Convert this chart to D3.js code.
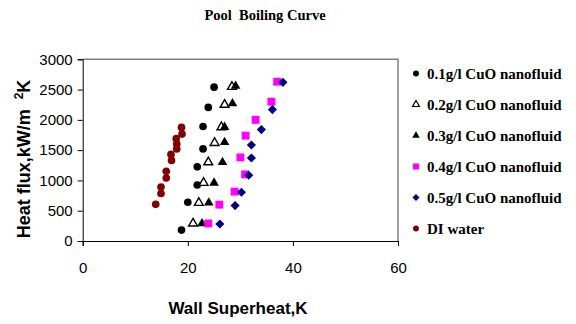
<!DOCTYPE html>
<html>
<head>
<meta charset="utf-8">
<script src="https://cdn.jsdelivr.net/npm/d3@7"></script>
<style>
  body { margin: 0; background: #fff; }
  svg { display: block; }
</style>
</head>
<body>
<svg id="chart" width="576" height="324"></svg>
<script>
// wall superheat (K) and heat flux (kW/m2K)
const cuo01X = [25.0, 23.9, 22.9, 22.9, 21.8, 21.8, 20.0, 18.8];
const cuo01Y = [2540, 2205, 1890, 1520, 1225, 925, 640, 180];

const cuo02X = [28.4, 27.0, 26.4, 25.1, 23.9, 23.0, 22.1, 21.0];
const cuo02Y = [2545, 2250, 1880, 1620, 1300, 960, 630, 290];

const cuo03X = [29.1, 28.5, 27.0, 27.0, 26.6, 25.0, 24.0, 22.7];
const cuo03Y = [2560, 2270, 1880, 1630, 1300, 960, 630, 290];

const cuo04X = [37.0, 35.9, 32.9, 31.0, 30.0, 30.9, 28.9, 26.0, 23.9];
const cuo04Y = [2630, 2300, 2000, 1740, 1380, 1100, 815, 600, 290];

const cuo05X = [38.1, 36.1, 34.0, 32.1, 32.1, 31.6, 30.2, 29.0, 26.1];
const cuo05Y = [2620, 2170, 1840, 1585, 1370, 1085, 805, 585, 280];

const waterX = [18.8, 18.9, 17.8, 17.9, 17.9, 16.8, 16.9, 15.9, 15.9, 14.9, 14.9, 13.9];
const waterY = [1875, 1765, 1690, 1600, 1520, 1430, 1330, 1150, 1040, 890, 785, 605];

const seriesNames = ["0.1g/l CuO nanofluid", "0.2g/l CuO nanofluid", "0.3g/l CuO nanofluid",
  "0.4g/l CuO nanofluid", "0.5g/l CuO nanofluid", "DI water"];

const xTicks = [0, 20, 40, 60];
const yTicks = [0, 500, 1000, 1500, 2000, 2500, 3000];

// diamond = square turned 45 degrees
const series = [
  {name: seriesNames[0], xs: cuo01X, ys: cuo01Y, shape: d3.symbolCircle, size: 46, rot: 0, fill: "#000", stroke: "none"},
  {name: seriesNames[1], xs: cuo02X, ys: cuo02Y, shape: d3.symbolTriangle, size: 34, rot: 0, fill: "#fff", stroke: "#000"},
  {name: seriesNames[2], xs: cuo03X, ys: cuo03Y, shape: d3.symbolTriangle, size: 40, rot: 0, fill: "#000", stroke: "none"},
  {name: seriesNames[3], xs: cuo04X, ys: cuo04Y, shape: d3.symbolSquare, size: 62, rot: 0, fill: "#ff00ff", stroke: "none"},
  {name: seriesNames[4], xs: cuo05X, ys: cuo05Y, shape: d3.symbolSquare, size: 42, rot: 45, fill: "#000080", stroke: "none"},
  {name: seriesNames[5], xs: waterX, ys: waterY, shape: d3.symbolCircle, size: 46, rot: 0, fill: "#800000", stroke: "none"},
];

const svg = d3.select("#chart");
const plotLeft = 82.7, plotRight = 398, plotTop = 59.3, plotBottom = 241;

const x = d3.scaleLinear().domain([0, 60]).range([plotLeft, plotRight]);
const y = d3.scaleLinear().domain([0, 3000]).range([plotBottom, plotTop]);

// plot area frame (grey top/right)
svg.append("path")
  .attr("d", `M${plotLeft},${plotTop}H${plotRight}V${plotBottom}`)
  .attr("fill", "none")
  .attr("stroke", "#808080")
  .attr("stroke-width", 1.5);

const xAxis = svg.append("g")
  .attr("transform", `translate(0,${plotBottom})`)
  .call(d3.axisBottom(x).tickValues(xTicks).tickSize(5).tickPadding(16));

const yAxis = svg.append("g")
  .attr("transform", `translate(${plotLeft},0)`)
  .call(d3.axisLeft(y).tickValues(yTicks).tickFormat(d3.format("d")).tickSize(5).tickPadding(5));

[xAxis, yAxis].forEach(g => {
  g.selectAll("path, line").attr("stroke", "#000").attr("stroke-width", 1);
  g.selectAll("text")
    .attr("font-family", "Liberation Sans, Arial, sans-serif")
    .attr("font-size", 15)
    .attr("fill", "#000");
});

// points
series.forEach(s => {
  svg.append("g")
    .selectAll("path")
    .data(s.xs.map((v, i) => [v, s.ys[i]]))
    .enter().append("path")
    .attr("d", d3.symbol().type(s.shape).size(s.size))
    .attr("transform", d => `translate(${x(d[0])},${y(d[1])}) rotate(${s.rot})`)
    .attr("fill", s.fill)
    .attr("stroke", s.stroke)
    .attr("stroke-width", 1.4);
});

// titles
svg.append("text")
  .attr("x", 265).attr("y", 20)
  .attr("text-anchor", "middle")
  .attr("font-family", "Liberation Serif, Times New Roman, serif")
  .attr("font-weight", "bold")
  .attr("font-size", 14.5)
  .style("white-space", "pre")
  .text("Pool  Boiling Curve");

svg.append("text")
  .attr("x", 238).attr("y", 314)
  .attr("text-anchor", "middle")
  .attr("font-family", "Liberation Sans, Arial, sans-serif")
  .attr("font-weight", "bold")
  .attr("font-size", 17)
  .text("Wall Superheat,K");

const yLabel = svg.append("text")
  .attr("transform", "translate(30,159) rotate(-90)")
  .attr("text-anchor", "middle")
  .attr("font-family", "Liberation Sans, Arial, sans-serif")
  .attr("font-weight", "bold")
  .attr("font-size", 18)
  .style("white-space", "pre");
yLabel.append("tspan").text("Heat flux,kW/m  ");
yLabel.append("tspan").attr("font-size", 12).attr("dy", -7).text("2");
yLabel.append("tspan").attr("dy", 7).text("K");

// legend
const legend = svg.append("g")
  .selectAll("g")
  .data(series)
  .enter().append("g")
  .attr("transform", (d, i) => `translate(416,${73.5 + i * 31})`);

legend.append("path")
  .attr("d", d => d3.symbol().type(d.shape).size(d.size * 0.6)())
  .attr("transform", d => `rotate(${d.rot})`)
  .attr("fill", d => d.fill)
  .attr("stroke", d => d.stroke)
  .attr("stroke-width", 1.2);

legend.append("text")
  .attr("x", 11)
  .attr("y", 5)
  .attr("font-family", "Liberation Serif, Times New Roman, serif")
  .attr("font-weight", "bold")
  .attr("font-size", 15)
  .text(d => d.name);
</script>
</body>
</html>
